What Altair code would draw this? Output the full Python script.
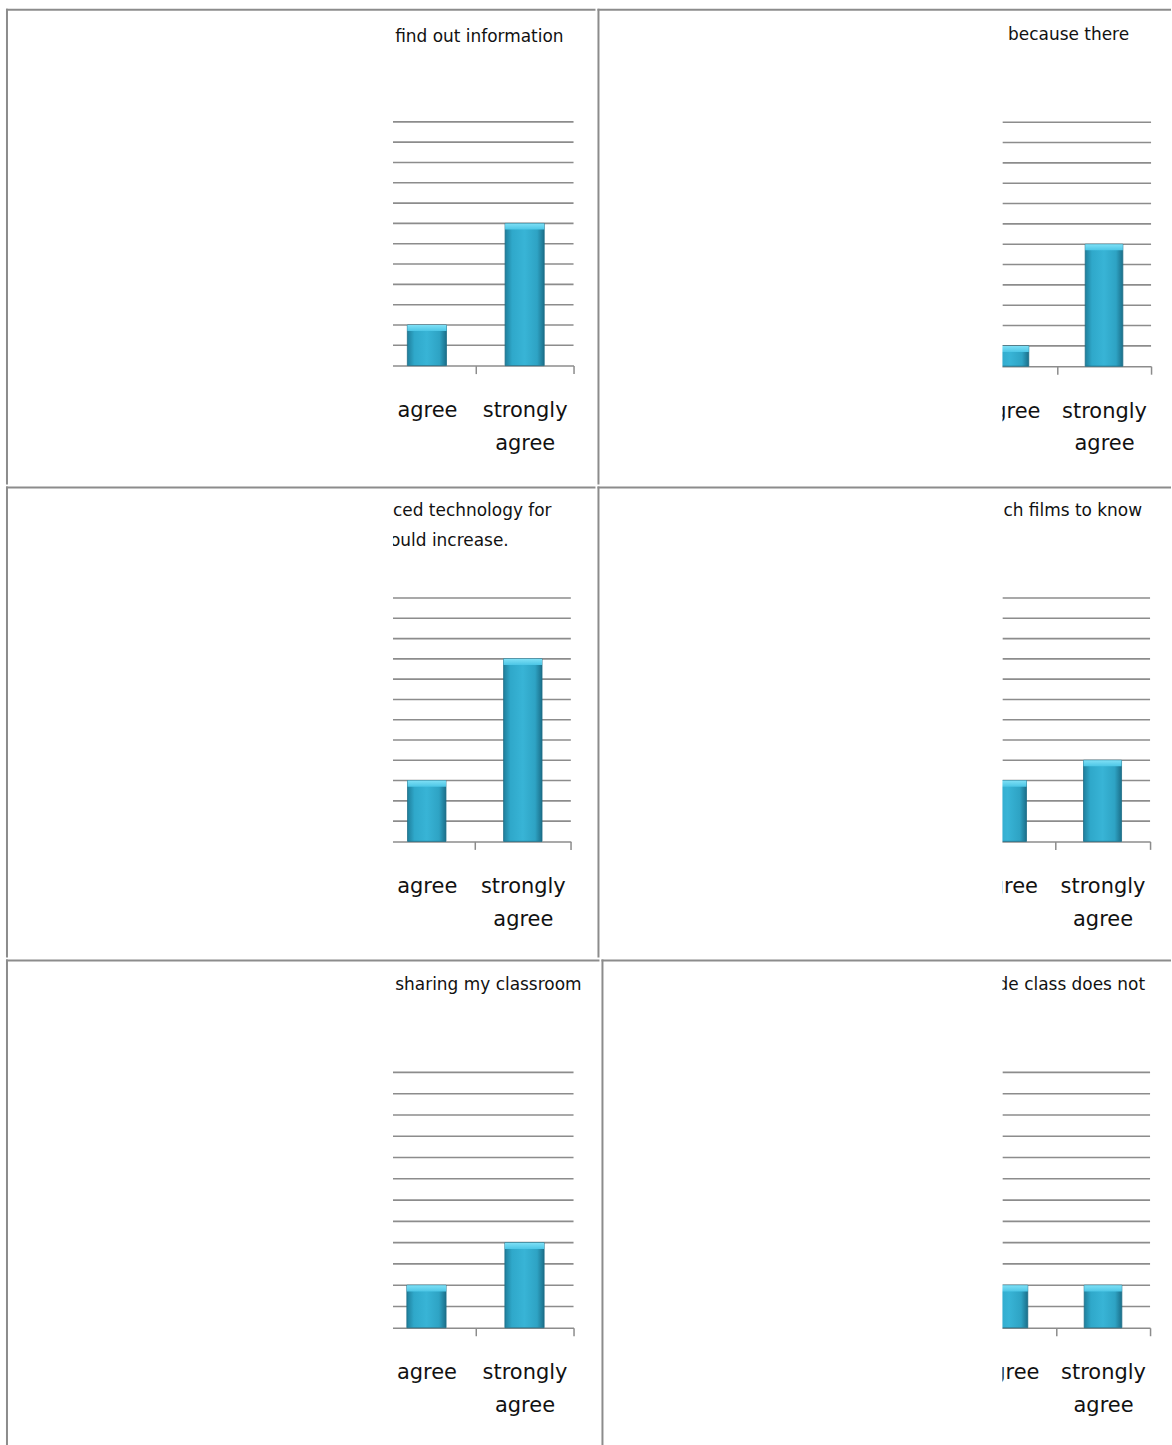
import altair as alt
import pandas as pd

# ---- data ----
categories = ["agree", "strongly agree"]
grid_values = list(range(1, 13))

values_p1 = [2, 7]
values_p2 = [1, 6]
values_p3 = [3, 9]
values_p4 = [3, 4]
values_p5 = [2, 4]
values_p6 = [2, 2]

titles_p1 = ["find out information"]
titles_p2 = ["because there"]
titles_p3 = ["ced technology for", "ould increase."]
titles_p4 = ["ch films to know"]
titles_p5 = ["sharing my classroom"]
titles_p6 = ["de class does not"]

GRAY = "#8c8c8c"
FONT = "DejaVu Sans"

bar_fill = alt.Gradient(
    gradient="linear", x1=0, x2=1, y1=0, y2=0,
    stops=[
        alt.GradientStop(color="#1f7f9c", offset=0),
        alt.GradientStop(color="#2fa8ca", offset=0.18),
        alt.GradientStop(color="#38b4d6", offset=0.5),
        alt.GradientStop(color="#2ea3c4", offset=0.82),
        alt.GradientStop(color="#1b6f8a", offset=1),
    ],
)
bevel_fill = alt.Gradient(
    gradient="linear", x1=0, x2=0, y1=0, y2=1,
    stops=[
        alt.GradientStop(color="#7fe0f6", offset=0),
        alt.GradientStop(color="#4cc6e6", offset=1),
    ],
)

one = pd.DataFrame({"a": [0]})


def panel(w, h, vals, xr, ybase, ytop, mask_x, title_lines):
    df = pd.DataFrame({"category": categories, "value": vals})
    gdf = pd.DataFrame({"g": grid_values})
    offset = -(h - ybase)
    xscale = alt.Scale(domain=categories, range=xr, paddingInner=0, paddingOuter=0)
    yscale = alt.Scale(domain=[0, 12], range=[ybase, ytop], nice=False, zero=True)
    xaxis = alt.Axis(
        title=None, labelAngle=0, labelFont=FONT, labelFontSize=21,
        labelColor="#111111", labelExpr="split(datum.label, ' ')",
        labelLineHeight=33, labelPadding=26, tickBand="extent", tickSize=8,
        tickColor=GRAY, tickWidth=1.5, domainColor=GRAY, domainWidth=1.5,
        offset=offset, labelOverlap=False, grid=False,
    )
    x_enc = alt.X("category:N", scale=xscale, sort=categories, axis=xaxis)

    grid = alt.Chart(gdf).mark_rule(color=GRAY, strokeWidth=1.6).encode(
        y=alt.Y("g:Q", scale=yscale, axis=None),
        x=alt.value(mask_x), x2=alt.value(xr[1]),
    )
    bars = alt.Chart(df).mark_bar(
        width=alt.RelativeBandSize(0.4), fill=bar_fill,
        stroke="#1d6d86", strokeWidth=0.8,
    ).encode(x=x_enc, y=alt.Y("value:Q", scale=yscale, axis=None))
    bevel = alt.Chart(df).transform_calculate(
        top2="datum.value - 0.3"
    ).mark_bar(width=alt.RelativeBandSize(0.4), fill=bevel_fill).encode(
        x=x_enc, y=alt.Y("value:Q", scale=yscale, axis=None), y2="top2:Q"
    )
    layers = [grid, bars, bevel]
    for (txt, tx, ty) in title_lines:
        layers.append(
            alt.Chart(pd.DataFrame({"t": [txt]})).mark_text(
                align="right", baseline="middle", font=FONT, fontSize=17,
                color="#111111",
            ).encode(x=alt.value(tx), y=alt.value(ty), text="t:N")
        )
    mask = alt.Chart(one).mark_rect(color="white").encode(
        x=alt.value(2), x2=alt.value(mask_x), y=alt.value(2), y2=alt.value(h)
    )
    top_border = alt.Chart(one).mark_rule(color=GRAY, strokeWidth=2).encode(
        x=alt.value(0), x2=alt.value(w), y=alt.value(1)
    )
    left_border = alt.Chart(one).mark_rule(color=GRAY, strokeWidth=2).encode(
        x=alt.value(1), y=alt.value(0), y2=alt.value(h)
    )
    layers += [mask, top_border, left_border]
    return alt.layer(*layers).properties(width=w, height=h)


p1 = panel(591, 477, values_p1, [373, 569], 357.7, 113.3, 388,
           [(titles_p1[0], 559, 28)])
p2 = panel(575, 477, values_p2, [366.4, 555], 358.3, 113.7, 406,
           [(titles_p2[0], 533, 26)])
p3 = panel(591, 472, values_p3, [373.7, 566.3], 355.7, 111.7, 388,
           [(titles_p3[0], 547, 24), (titles_p3[1], 504, 55)])
p4 = panel(575, 472, values_p4, [363.4, 554], 355.7, 111.7, 406,
           [(titles_p4[0], 546, 24)])
p5 = panel(595, 487, values_p5, [372.4, 569], 369.3, 113.3, 388,
           [(titles_p5[0], 577, 26)])
p6 = panel(571, 487, values_p6, [361.4, 550], 369.3, 113.3, 402,
           [(titles_p6[0], 545, 26)])

chart = alt.vconcat(
    alt.hconcat(p1, p2, spacing=0),
    alt.hconcat(p3, p4, spacing=0),
    alt.hconcat(p5, p6, spacing=0),
    spacing=0,
).properties(
    padding={"left": 5, "top": 6, "right": 0, "bottom": 0},
    background="white",
).configure_view(stroke=None).configure_concat(spacing=0)

chart.save("out.html", embed_options={"renderer": "svg", "actions": False})
